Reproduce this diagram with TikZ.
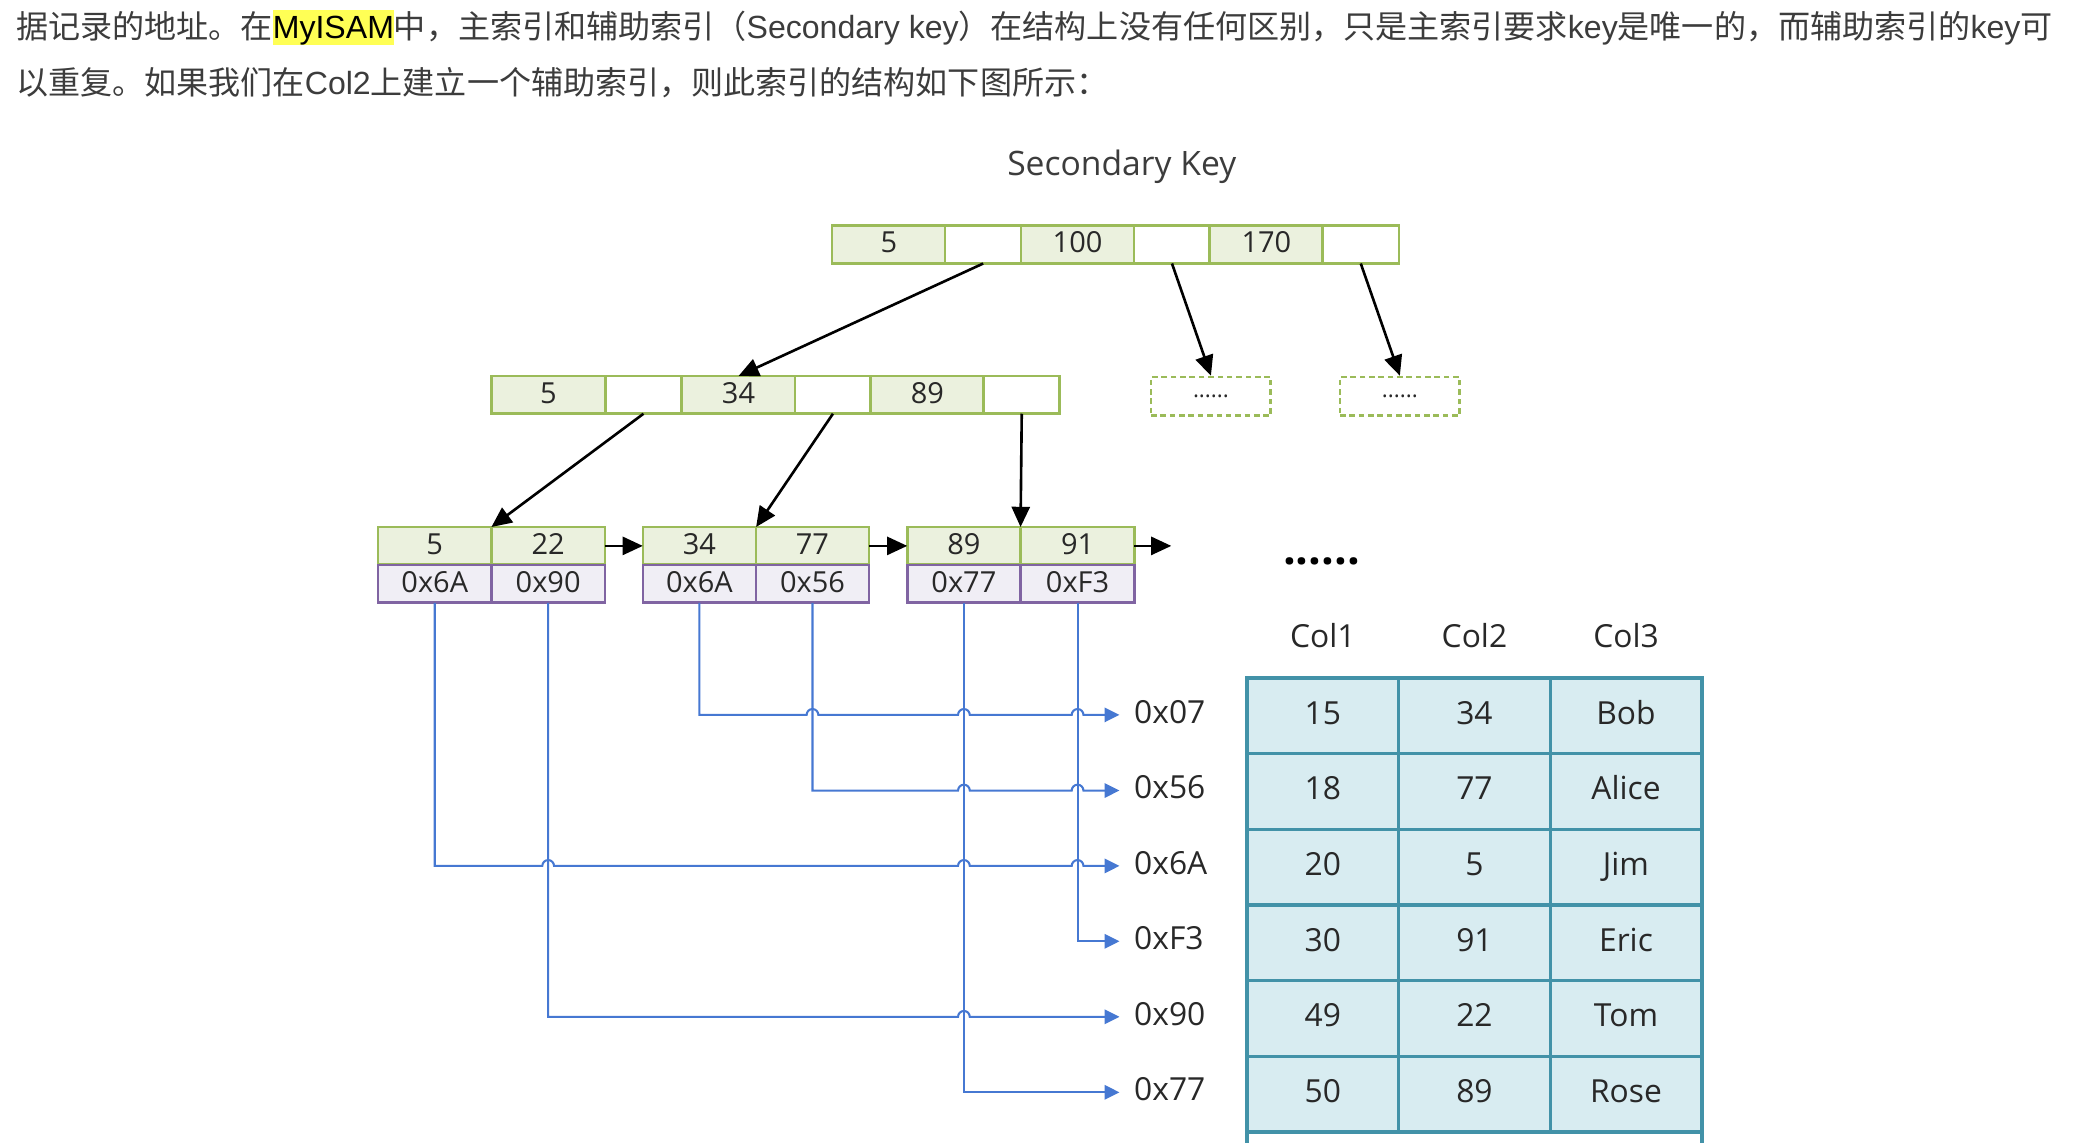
\documentclass[tikz,border=0pt]{standalone}
\usepackage{fontspec}
\setmainfont{Open Sans}
\newfontfamily\cjk{Noto Sans CJK SC}
\newfontfamily\latin{Liberation Sans}
\usetikzlibrary{arrows.meta}

\newcommand{\markyellow}[1]{{\setlength{\fboxsep}{0pt}\colorbox{markyellow}{\rule[-0.2em]{0pt}{1.1em}\textcolor{black}{#1}}}}

\begin{document}
\begin{tikzpicture}[x=0.025cm, y=-0.025cm,
  cell/.style={draw=keygreen, line width=1.4pt, minimum height=0.71cm, inner sep=0pt, outer sep=0pt, text=celltext, font=\fontsize{15.5}{18}\selectfont, text height=0.88em, text depth=0pt},
  keycell/.style={cell, fill=keyfill, minimum width=2.13cm},
  ptrcell/.style={cell, fill=white, minimum width=1.43cm},
  rowcell/.style={cell, draw=rowpurple, fill=rowfill, minimum width=2.13cm},
  morebox/.style={draw=keygreen, line width=1.4pt, dash pattern=on 3pt off 2pt, minimum width=2.25cm, minimum height=0.72cm, inner sep=0pt, text=celltext, font=\fontsize{12}{12}\selectfont},
  tabcell/.style={draw=tabline, fill=tabfill, line width=1.8pt, minimum width=2.85cm, minimum height=1.4225cm, inner sep=0pt, outer sep=0pt, text=celltext, font=\fontsize{17}{20}\selectfont, text height=0.88em, text depth=0pt},
  colhead/.style={inner sep=0pt, text=celltext, font=\fontsize{17}{20}\selectfont, text height=0.88em, text depth=0pt},
  addr/.style={colhead, anchor=west, inner xsep=0.27cm},
  ptr/.style={line width=1.4pt, -{Triangle[length=3.8mm, width=3.4mm]}},
  link/.style={draw=linkblue, line width=1.1pt, -{Triangle[length=2.8mm, width=2.7mm]}}
]

\definecolor{keygreen}{RGB}{155,187,89}
\definecolor{keyfill}{RGB}{235,241,222}
\definecolor{rowpurple}{RGB}{128,100,162}
\definecolor{rowfill}{RGB}{240,238,245}
\definecolor{tabline}{RGB}{66,146,168}
\definecolor{tabfill}{RGB}{216,236,241}
\definecolor{linkblue}{RGB}{70,120,210}
\definecolor{celltext}{RGB}{40,40,40}
\definecolor{bodygray}{RGB}{60,60,60}
\definecolor{markyellow}{RGB}{255,255,85}
\def\hop{1.1mm}

\useasboundingbox (0,0) rectangle (1569,859);

% Fliesstext
\node[anchor=base west, inner sep=0pt, text=bodygray, font=\latin\fontsize{17.15}{20}\selectfont] (line1) at (12,29) {{\cjk 据记录的地址。在}\markyellow{MyISAM}{\cjk 中，主索引和辅助索引（}Secondary key{\cjk ）在结构上没有任何区别，只是主索引要求}key{\cjk 是唯一的，而辅助索引的}key{\cjk 可}};
\node[anchor=base west, inner sep=0pt, text=bodygray, font=\latin\fontsize{17.15}{20}\selectfont] (line2) at (12,71) {{\cjk 以重复。如果我们在}Col2{\cjk 上建立一个辅助索引，则此索引的结构如下图所示：}};

\node[anchor=base, inner sep=0pt, text=bodygray, font=\fontsize{18}{20}\selectfont] (title) at (843.7,132) {Secondary Key};

% Wurzel
\node[keycell] (t5) at (668.5,184) {5};
\node[ptrcell] (tp1) at (739.5,184) {};
\node[keycell] (t100) at (810.5,184) {100};
\node[ptrcell] (tp2) at (881.5,184) {};
\node[keycell] (t170) at (952.5,184) {170};
\node[ptrcell] (tp3) at (1023.5,184) {};

% Zwischenknoten
\node[keycell] (m5) at (412.5,297) {5};
\node[ptrcell] (mp1) at (484,297) {};
\node[keycell] (m34) at (555.5,297) {34};
\node[ptrcell] (mp2) at (626.5,297) {};
\node[keycell] (m89) at (697.5,297) {89};
\node[ptrcell] (mp3) at (768.5,297) {};
\node[morebox] (more1) at (910.8,298) {......};
\node[morebox] (more2) at (1052.9,298) {......};

% Blaetter
\node[keycell] (l1k1) at (327,410.6) {5};
\node[keycell] (l1k2) at (412.3,410.6) {22};
\node[rowcell] (l1r1) at (327,439.2) {0x6A};
\node[rowcell] (l1r2) at (412.3,439.2) {0x90};
\node[keycell] (l2k1) at (526.1,410.6) {34};
\node[keycell] (l2k2) at (611.1,410.6) {77};
\node[rowcell] (l2r1) at (526.1,439.2) {0x6A};
\node[rowcell] (l2r2) at (611.1,439.2) {0x56};
\node[keycell] (l3k1) at (725,410.6) {89};
\node[keycell] (l3k2) at (810.5,410.6) {91};
\node[rowcell] (l3r1) at (725,439.2) {0x77};
\node[rowcell] (l3r2) at (810.5,439.2) {0xF3};
\coordinate (tail) at (881,410.6);
\node[inner sep=0pt, font=\bfseries\fontsize{24}{24}\selectfont] (dots) at (994,422) {......};

% Zeiger
\draw[ptr] (tp1.south) -- (m34.north);
\draw[ptr] (tp2.south) -- (more1.north);
\draw[ptr] (tp3.south) -- (more2.north);
\draw[ptr] (mp1.south) -- (l1k1.north east);
\draw[ptr] (mp2.south) -- (l2k1.north east);
\draw[ptr] (mp3.south) -- (l3k1.north east);
\draw[ptr] (l1k2.east) -- (l2k1.west);
\draw[ptr] (l2k2.east) -- (l3k1.west);
\draw[ptr] (l3k2.east) -- (tail);

% Tabelle
\node[colhead] (c1) at (995,481) {Col1};
\node[colhead] (c2) at (1109,481) {Col2};
\node[colhead] (c3) at (1223,481) {Col3};
\node[tabcell] (t11) at (995,538.5) {15}; \node[tabcell] (t12) at (1109,538.5) {34}; \node[tabcell] (t13) at (1223,538.5) {Bob};
\node[tabcell] (t21) at (995,595.4) {18}; \node[tabcell] (t22) at (1109,595.4) {77}; \node[tabcell] (t23) at (1223,595.4) {Alice};
\node[tabcell] (t31) at (995,652.3) {20}; \node[tabcell] (t32) at (1109,652.3) {5}; \node[tabcell] (t33) at (1223,652.3) {Jim};
\node[tabcell] (t41) at (995,709.2) {30}; \node[tabcell] (t42) at (1109,709.2) {91}; \node[tabcell] (t43) at (1223,709.2) {Eric};
\node[tabcell] (t51) at (995,766.1) {49}; \node[tabcell] (t52) at (1109,766.1) {22}; \node[tabcell] (t53) at (1223,766.1) {Tom};
\node[tabcell] (t61) at (995,823) {50}; \node[tabcell] (t62) at (1109,823) {89}; \node[tabcell] (t63) at (1223,823) {Rose};
\draw[draw=tabline, line width=1.8pt] (t61.south west) -- ++(0,12);
\draw[draw=tabline, line width=1.8pt] (t63.south east) -- ++(0,12);

% Adressen
\node[addr] (a07) at (842,537.7) {0x07};
\node[addr] (a56) at (842,594.6) {0x56};
\node[addr] (a6A) at (842,651.3) {0x6A};
\node[addr] (aF3) at (842,708) {0xF3};
\node[addr] (a90) at (842,764.8) {0x90};
\node[addr] (a77) at (842,821.6) {0x77};

% Verweise
\draw[link] (l2r1.south) -- (l2r1.south |- a07.west) -- ([xshift=-\hop]l2r2.south |- a07.west) arc[start angle=180, end angle=0, radius=\hop] -- ([xshift=-\hop]l3r1.south |- a07.west) arc[start angle=180, end angle=0, radius=\hop] -- ([xshift=-\hop]l3r2.south |- a07.west) arc[start angle=180, end angle=0, radius=\hop] -- (a07.west);
\draw[link] (l2r2.south) -- (l2r2.south |- a56.west) -- ([xshift=-\hop]l3r1.south |- a56.west) arc[start angle=180, end angle=0, radius=\hop] -- ([xshift=-\hop]l3r2.south |- a56.west) arc[start angle=180, end angle=0, radius=\hop] -- (a56.west);
\draw[link] (l1r1.south) -- (l1r1.south |- a6A.west) -- ([xshift=-\hop]l1r2.south |- a6A.west) arc[start angle=180, end angle=0, radius=\hop] -- ([xshift=-\hop]l3r1.south |- a6A.west) arc[start angle=180, end angle=0, radius=\hop] -- ([xshift=-\hop]l3r2.south |- a6A.west) arc[start angle=180, end angle=0, radius=\hop] -- (a6A.west);
\draw[link] (l3r2.south) |- (aF3.west);
\draw[link] (l1r2.south) -- (l1r2.south |- a90.west) -- ([xshift=-\hop]l3r1.south |- a90.west) arc[start angle=180, end angle=0, radius=\hop] -- (a90.west);
\draw[link] (l3r1.south) |- (a77.west);

\end{tikzpicture}
\end{document}
